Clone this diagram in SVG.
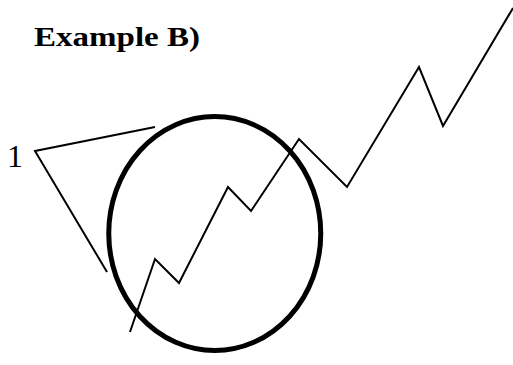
<svg xmlns="http://www.w3.org/2000/svg" width="513" height="365" viewBox="0 0 513 365">
<style>
.ln{fill:none;stroke:#000;stroke-width:2;stroke-linejoin:miter}
.t{font-family:"Liberation Serif","Times New Roman",serif;fill:#000}
</style>
<rect width="513" height="365" fill="#fff"/>
<g id="title"><text class="t" x="34" y="46" font-size="28" font-weight="bold" textLength="166" lengthAdjust="spacingAndGlyphs">Example B)</text></g>
<g id="label1"><text class="t" x="7" y="167" font-size="32">1</text></g>
<g id="circle"><ellipse cx="214.75" cy="233.5" rx="106" ry="117" fill="none" stroke="#000" stroke-width="5"/></g>
<g id="connectors">
<polyline class="ln" points="155,127 35,151 107,272"/>
<polyline class="ln" points="130,332 155,259 179,283 228,187 251,211 299,139 347,187 419,67 443,126 513,8"/>
</g>
</svg>
